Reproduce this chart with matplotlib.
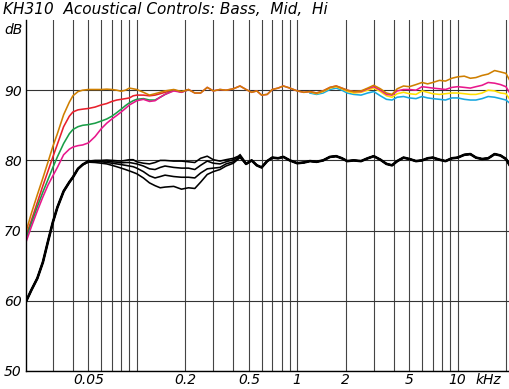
import matplotlib
matplotlib.use("Agg")
import matplotlib.pyplot as plt
from matplotlib.ticker import FixedLocator, FixedFormatter, NullFormatter

# ---------------- data ----------------
freq_hz = [20.5, 22, 24, 26, 28, 30, 32, 35, 38, 40, 43, 46,
           50, 55, 60, 65, 70, 75, 80, 85, 90, 95, 100,
           110, 120, 130, 140, 150, 170, 190, 210, 230, 250, 275, 300, 330, 360, 400, 440,
           480, 520, 560, 600, 650, 700, 760, 820, 900, 1000, 1100, 1200, 1320, 1450, 1600,
           1750, 1900, 2050, 2250, 2500,
           2750, 3000, 3300, 3600, 3900, 4200, 4600, 5000, 5500, 6000, 6500, 7000, 7700,
           8400, 9200, 10000, 11000, 12000, 13000, 14200, 15500, 17000, 18500, 20000, 21000]

orange_db = [70.0, 72.4, 75.1, 77.5, 79.8, 82.0, 83.8, 86.5, 88.3, 89.2, 89.8, 90.0,
             90.1, 90.1, 90.1, 90.15, 90.1, 90.0, 89.85, 90.0, 90.3, 90.2, 90.1,
             89.7, 89.3, 89.5, 89.7, 89.9, 90.1, 89.8, 90.1, 89.6, 89.6, 90.4, 89.9, 90.1, 90.0, 90.2, 90.6,
             90.1, 89.7, 89.9, 89.3, 89.4, 90.1, 90.3, 90.6, 90.3, 89.9, 89.7, 89.8, 89.6, 89.9, 90.4,
             90.6, 90.3, 90.0, 89.8, 89.9,
             90.3, 90.7, 90.2, 89.6, 89.4, 90.2, 90.6, 90.5, 90.8, 91.1, 90.9, 91.1, 91.4,
             91.3, 91.7, 91.9, 92.0, 91.7, 91.8, 92.1, 92.3, 92.8, 92.6, 92.4, 91.5]

# bass-shelf curves, up to where they join the flat response (index 0..30)
red_db = [69.4, 71.4, 74.0, 76.4, 78.5, 80.5, 82.3, 84.8, 86.3, 86.9, 87.2, 87.3,
          87.4, 87.6, 87.9, 88.1, 88.4, 88.6, 88.7, 88.8, 88.9, 89.2, 89.3,
          89.3, 89.2, 89.3, 89.5, 89.7, 90.0, 89.75, 90.05]
green_db = [69.0, 71.0, 73.4, 75.5, 77.3, 79.0, 80.5, 82.4, 83.8, 84.4, 84.8, 85.0,
            85.1, 85.3, 85.6, 85.9, 86.3, 86.8, 87.3, 87.8, 88.2, 88.5, 88.7,
            88.8, 88.6, 88.6, 89.0, 89.4, 90.0, 89.75, 90.05]
magenta_db = [68.5, 70.5, 72.8, 74.8, 76.5, 77.8, 79.0, 80.8, 81.6, 81.9, 82.1, 82.2,
              82.5, 83.4, 84.5, 85.3, 85.9, 86.4, 86.9, 87.4, 87.9, 88.2, 88.5,
              88.7, 88.4, 88.5, 89.0, 89.4, 89.9, 89.7,
              90.1, 89.6, 89.6, 90.4, 89.9, 90.1, 90.0, 90.2, 90.6, 90.1, 89.7, 89.9, 89.3, 89.4,
              90.1, 90.3, 90.6, 90.3, 89.9, 89.7, 89.8, 89.6, 89.9, 90.4, 90.6, 90.3, 90.0, 89.8, 89.8,
              90.2, 90.5, 90.0, 89.4, 89.3, 89.9, 90.1, 90.1, 90.0, 90.5, 90.4, 90.3, 90.2,
              90.1, 90.4, 90.5, 90.4, 90.3, 90.5, 90.7, 91.1, 91.0, 90.8, 90.5, 89.7]

# treble variants, from 1.2 kHz (index 50) upwards
hf_start = 50
yellow_db = [89.75, 89.5, 89.8, 90.3, 90.5, 90.2, 89.85, 89.6, 89.7, 90.0, 90.3, 89.8, 89.2,
             89.0, 89.5, 89.7, 89.5, 89.4, 89.9, 89.7, 89.5, 89.4, 89.5, 89.6, 89.6, 89.5,
             89.4, 89.4, 89.6, 90.0, 89.9, 89.6, 89.5, 88.8]
cyan_db = [89.6, 89.4, 89.6, 90.1, 90.3, 90.0, 89.6, 89.4, 89.3, 89.6, 89.8, 89.2, 88.7,
           88.6, 89.0, 89.1, 88.9, 88.8, 89.1, 88.9, 88.8, 88.7, 88.6, 88.9, 88.9, 88.7,
           88.6, 88.6, 88.8, 89.1, 89.0, 88.8, 88.6, 88.2]

# mid-control curves (black): common low part (index 0..11), individual middle (12..38), common top (39..83)
black_low_db = [60.0, 61.5, 63.2, 65.5, 68.5, 71.2, 73.3, 75.6, 76.9, 77.6, 78.8, 79.4]
black_mid0_db = [79.9, 80.0, 80.0, 80.05, 80.0, 79.95, 79.9, 80.0, 80.1, 80.1, 79.8,
                 79.6, 79.5, 79.7, 80.0, 80.0, 79.9, 79.9, 79.8, 79.7, 80.3, 80.6, 80.1, 79.9, 80.1, 80.3, 80.7]
black_mid1_db = [79.85, 79.9, 79.9, 79.9, 79.8, 79.75, 79.65, 79.7, 79.7, 79.6, 79.5,
                 79.2, 78.8, 78.7, 79.0, 79.2, 79.0, 78.9, 78.9, 78.7, 79.3, 79.9, 79.6, 79.5, 79.8, 80.1, 80.6]
black_mid2_db = [79.8, 79.8, 79.8, 79.7, 79.6, 79.5, 79.4, 79.3, 79.2, 79.1, 78.9,
                 78.4, 77.8, 77.5, 77.7, 77.9, 77.7, 77.6, 77.6, 77.5, 78.2, 78.8, 78.9, 79.0, 79.5, 79.8, 80.5]
black_mid3_db = [79.75, 79.7, 79.6, 79.5, 79.3, 79.1, 78.9, 78.7, 78.5, 78.3, 78.1,
                 77.5, 76.8, 76.4, 76.1, 76.2, 76.3, 75.9, 76.1, 76.0, 76.9, 78.0, 78.4, 78.7, 79.2, 79.6, 80.4]
black_high_db = [79.5, 80.0, 79.3, 79.0, 79.9, 80.4, 80.3, 80.5, 80.0, 79.6, 79.7, 79.9, 79.8, 80.0,
                 80.5, 80.6, 80.3, 79.9, 80.0, 79.9, 80.3, 80.6, 80.1, 79.5, 79.3, 79.9, 80.4, 80.2,
                 79.9, 80.0, 80.3, 80.4, 80.1, 79.9, 80.3, 80.4, 80.8, 80.9, 80.4, 80.2, 80.3, 80.9,
                 80.7, 80.2, 79.4]

grid_hz = [30, 40, 50, 60, 70, 80, 90, 100, 200, 300, 400, 500, 600, 700, 800, 900,
           1000, 2000, 3000, 4000, 5000, 6000, 7000, 8000, 9000, 10000, 20000]
xtick_hz = [50, 200, 500, 1000, 2000, 5000, 10000]
xtick_labels = ["0.05", "0.2", "0.5", "1", "2", "5", "10"]
ytick_db = [50, 60, 70, 80, 90]
ytick_labels = ["50", "60", "70", "80", "90"]
title = "KH310  Acoustical Controls: Bass,  Mid,  Hi"

# ---------------- drawing ----------------
W, H = 510, 389
fig = plt.figure(figsize=(W / 100, H / 100), dpi=100)
ax = fig.add_axes([26 / W, 18 / H, 484 / W, 351 / H])
ax.set_xscale("log")
ax.set_xlim(20.4, 21200)
ax.set_ylim(50, 100)

ax.xaxis.set_major_locator(FixedLocator(xtick_hz))
ax.xaxis.set_major_formatter(FixedFormatter(xtick_labels))
ax.xaxis.set_minor_locator(FixedLocator(grid_hz))
ax.xaxis.set_minor_formatter(NullFormatter())
ax.set_yticks(ytick_db)
ax.set_yticklabels(ytick_labels)
ax.grid(which="both", axis="x", color="#444444", lw=0.8)
ax.grid(which="major", axis="y", color="#333333", lw=0.8)
ax.set_axisbelow(True)
for s in ("top", "right"):
    ax.spines[s].set_visible(False)
for s in ("left", "bottom"):
    ax.spines[s].set_color("black")
    ax.spines[s].set_linewidth(1.0)
ax.tick_params(which="both", length=0, labelsize=10)
ax.tick_params(axis="x", pad=1.5)
ax.tick_params(axis="y", pad=3)
for lab in ax.get_xticklabels() + ax.get_yticklabels():
    lab.set_style("italic")

lw_c = 1.15
f = freq_hz
ax.plot(f[hf_start:], cyan_db, color="#18a8e0", lw=lw_c)
ax.plot(f[hf_start:], yellow_db, color="#ffe000", lw=lw_c)
ax.plot(f[:len(red_db)], red_db, color="#e8202c", lw=lw_c)
ax.plot(f[:len(green_db)], green_db, color="#1a9e48", lw=lw_c)
ax.plot(f, magenta_db, color="#e8188c", lw=lw_c)
ax.plot(f, orange_db, color="#cf7f00", lw=lw_c)

for mid in (black_mid0_db, black_mid1_db, black_mid2_db, black_mid3_db):
    ax.plot(f, black_low_db + mid + black_high_db, color="black", lw=1.15)
ax.plot(f[:len(black_low_db) + 1], black_low_db + [black_mid0_db[0]], color="black", lw=1.9)
n_hi = len(black_high_db)
ax.plot(f[-n_hi - 1:], [black_mid0_db[-1]] + black_high_db, color="black", lw=1.9)

fig.text(3 / W, 1 - 10 / H, title, fontsize=11, style="italic", va="center", ha="left")
fig.text(4 / W, 1 - 30 / H, "dB", fontsize=10, style="italic", va="center", ha="left")
fig.text(476 / W, 1 - 380 / H, "kHz", fontsize=10, style="italic", va="center", ha="left")

fig.savefig("out.png", dpi=100)
